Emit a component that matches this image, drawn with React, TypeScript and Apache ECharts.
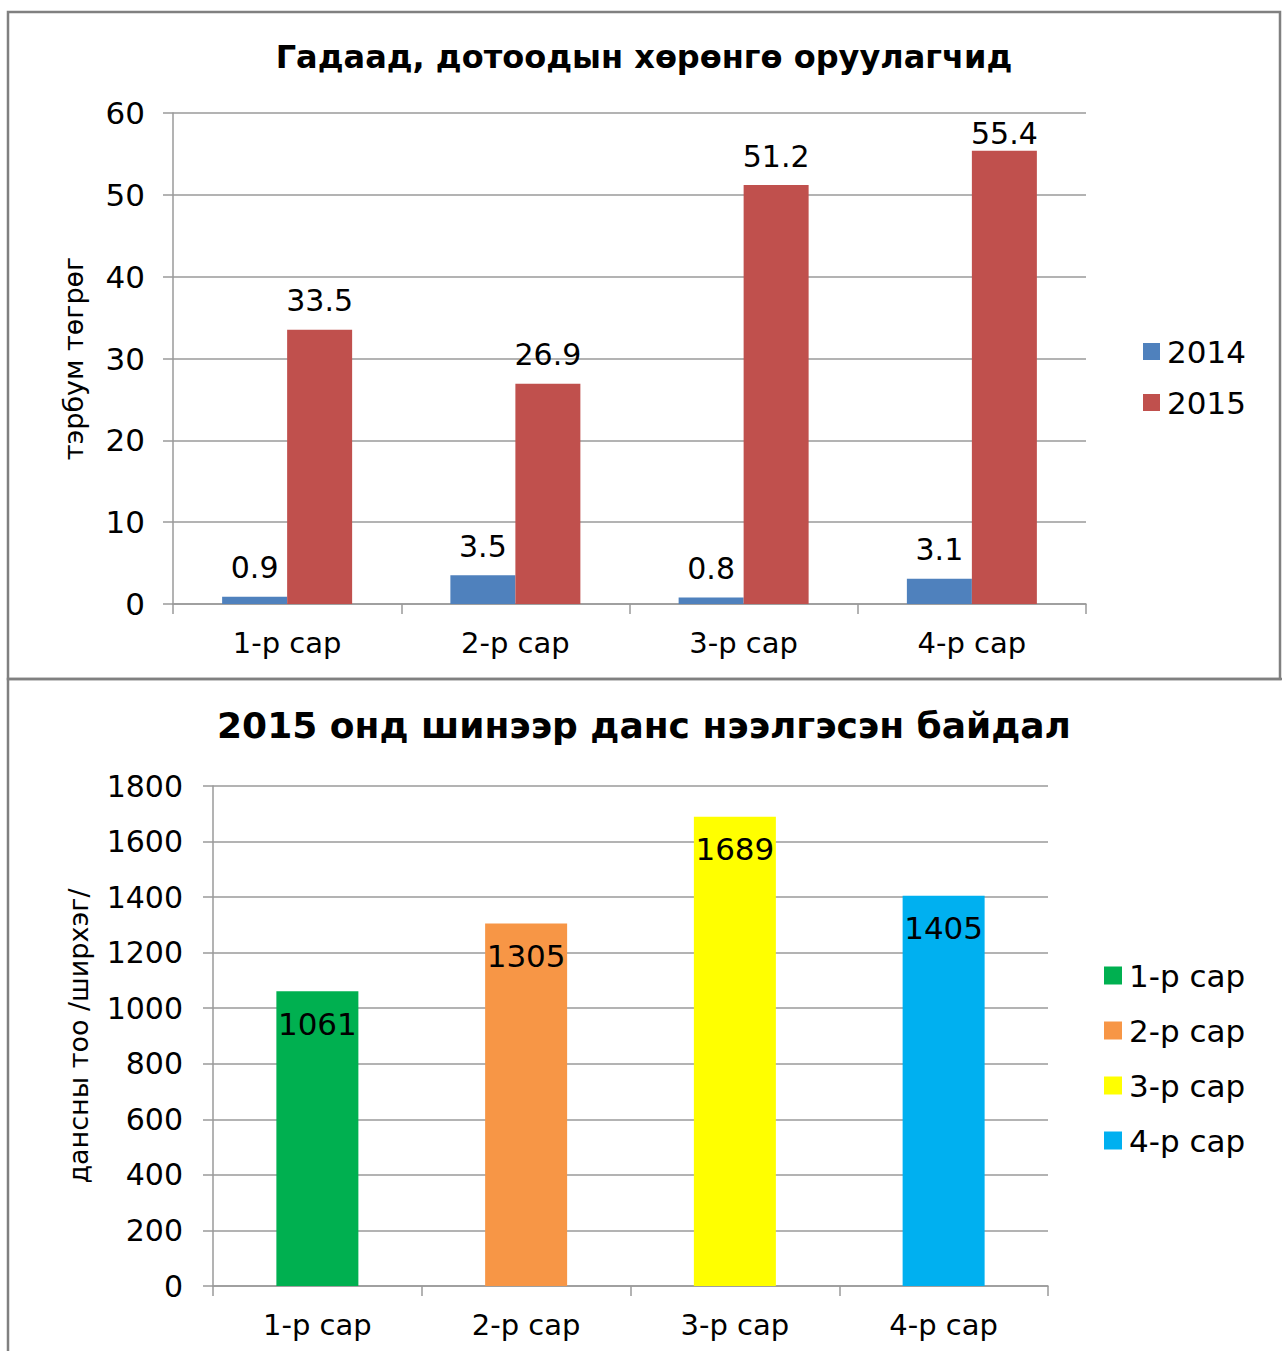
import React, { useEffect, useRef } from "react";
import * as echarts from "echarts";

const topTitle = "Гадаад, дотоодын хөрөнгө оруулагчид";
const topYName = "тэрбум төгрөг";
const months = ["1-р сар", "2-р сар", "3-р сар", "4-р сар"];
const years = ["2014", "2015"];
const values2014 = [0.9, 3.5, 0.8, 3.1];
const values2015 = [33.5, 26.9, 51.2, 55.4];
const topColors = ["#4F81BD", "#C0504D"];

const bottomTitle = "2015 онд шинээр данс нээлгэсэн байдал";
const bottomYName = "дансны тоо /ширхэг/";
const accounts = [1061, 1305, 1689, 1405];
const bottomColors = ["#00B050", "#F79646", "#FFFF00", "#00B0F0"];

const FONT = "DejaVu Sans, Liberation Sans, Arial, sans-serif";
const GRID_COLOR = "#9a9a9a";

export default function App() {
  const ref = useRef<HTMLDivElement>(null);
  useEffect(() => {
    if (!ref.current) return;
    const chart = echarts.init(ref.current, undefined, { renderer: "svg" });
    const topSeriesData = [values2014, values2015];
    const axisCommon = {
      axisLine: { show: true, lineStyle: { color: GRID_COLOR, width: 1.5 } },
      axisTick: { show: true, length: 10, lineStyle: { color: GRID_COLOR, width: 1.5 } },
    };
    const option: any = {
      animation: false,
      backgroundColor: "#ffffff",
      textStyle: { fontFamily: FONT, color: "#000" },
      title: [
        {
          text: topTitle,
          left: 644,
          textAlign: "center",
          top: 41,
          padding: 0,
          textStyle: { fontFamily: FONT, fontWeight: "bold", fontSize: 32, color: "#000" },
        },
        {
          text: bottomTitle,
          left: 644,
          textAlign: "center",
          top: 707,
          padding: 0,
          textStyle: { fontFamily: FONT, fontWeight: "bold", fontSize: 36, color: "#000" },
        },
      ],
      legend: [
        {
          data: years,
          orient: "vertical",
          left: 1143,
          top: 336,
          padding: 0,
          itemWidth: 17,
          itemHeight: 17,
          itemGap: 20,
          icon: "rect",
          textStyle: { fontFamily: FONT, fontSize: 31, color: "#000", padding: [0, 0, 0, 2] },
        },
        {
          data: months,
          orient: "vertical",
          left: 1104,
          top: 960,
          padding: 0,
          itemWidth: 18,
          itemHeight: 18,
          itemGap: 24,
          icon: "rect",
          textStyle: { fontFamily: FONT, fontSize: 31, color: "#000", padding: [0, 0, 0, 2] },
        },
      ],
      grid: [
        { left: 173, top: 113, width: 913, height: 491 },
        { left: 213, top: 786, width: 835, height: 500 },
      ],
      xAxis: [0, 1].map((g) => ({
        type: "category",
        gridIndex: g,
        data: months,
        ...axisCommon,
        axisLabel: { fontFamily: FONT, fontSize: 29, color: "#000", margin: 24 },
      })),
      yAxis: [
        {
          type: "value",
          gridIndex: 0,
          min: 0,
          max: 60,
          interval: 10,
          name: topYName,
          nameLocation: "middle",
          nameGap: 86,
          nameTextStyle: { fontFamily: FONT, fontSize: 27, color: "#000" },
          ...axisCommon,
          splitLine: { lineStyle: { color: GRID_COLOR, width: 1.5 } },
          axisLabel: { fontFamily: FONT, fontSize: 31, color: "#000", margin: 28 },
        },
        {
          type: "value",
          gridIndex: 1,
          min: 0,
          max: 1800,
          interval: 200,
          name: bottomYName,
          nameLocation: "middle",
          nameGap: 121,
          nameTextStyle: { fontFamily: FONT, fontSize: 27, color: "#000" },
          ...axisCommon,
          splitLine: { lineStyle: { color: GRID_COLOR, width: 1.5 } },
          axisLabel: {
            fontFamily: FONT,
            fontSize: 30,
            color: "#000",
            margin: 30,
            formatter: (v: number) => String(v),
          },
        },
      ],
      series: [
        ...years.map((y, i) => ({
          name: y,
          type: "bar",
          xAxisIndex: 0,
          yAxisIndex: 0,
          barWidth: 65,
          barGap: "0%",
          itemStyle: { color: topColors[i] },
          label: {
            show: true,
            position: "top",
            distance: 14,
            fontFamily: FONT,
            fontSize: 30,
            color: "#000",
          },
          data: topSeriesData[i].map((v) =>
            v > 54 ? { value: v, label: { distance: 2 } } : v
          ),
        })),
        ...months.map((m, i) => ({
          name: m,
          type: "bar",
          xAxisIndex: 1,
          yAxisIndex: 1,
          stack: "accounts",
          barWidth: 82,
          itemStyle: { color: bottomColors[i] },
          label: {
            show: true,
            position: "insideTop",
            distance: 17,
            fontFamily: FONT,
            fontSize: 31,
            color: "#000",
          },
          data: accounts.map((v, j) => (j === i ? v : null)),
        })),
      ],
      graphic: [
        {
          type: "rect",
          shape: { x: 8, y: 12, width: 1272, height: 667 },
          style: { fill: "none", stroke: "#808080", lineWidth: 2.5 },
          silent: true,
        },
        {
          type: "rect",
          shape: { x: 8, y: 679, width: 1300, height: 700 },
          style: { fill: "none", stroke: "#808080", lineWidth: 2.5 },
          silent: true,
        },
      ],
    };
    chart.setOption(option);
    return () => chart.dispose();
  }, []);
  return (
    <div
      ref={ref}
      style={{ position: "absolute", left: 0, top: 0, width: 1282, height: 1351 }}
    />
  );
}
